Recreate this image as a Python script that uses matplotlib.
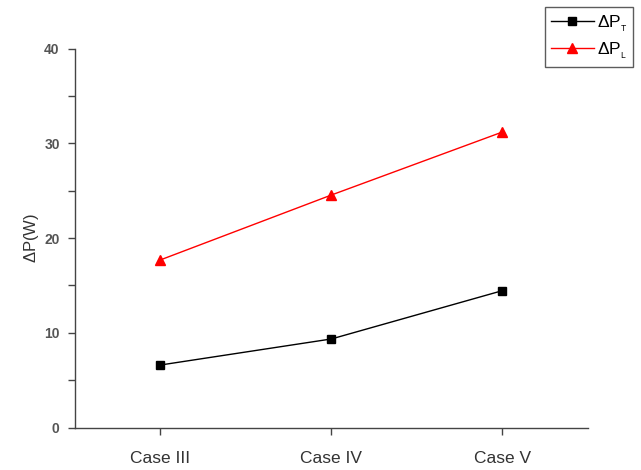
import matplotlib
matplotlib.use("Agg")
import matplotlib.pyplot as plt
from matplotlib.ticker import MultipleLocator

plt.rcParams['font.family'] = ['Liberation Sans', 'DejaVu Sans']
plt.rcParams['mathtext.fontset'] = 'custom'
plt.rcParams['mathtext.rm'] = 'Liberation Sans'

cases = ["Case III", "Case IV", "Case V"]
dp_total = [6.6, 9.35, 14.45]
dp_loss = [17.7, 24.55, 31.2]
y_ticks = [0, 10, 20, 30, 40]

fig = plt.figure(figsize=(6.41, 4.70), dpi=100)
ax = fig.add_axes([0.117, 0.0904, 0.8, 0.806])

x = list(range(len(cases)))
ax.plot(x, dp_total, color='black', lw=1.0, marker='s', ms=6,
        label=r'$\Delta$P$_\mathregular{_T}$')
ax.plot(x, dp_loss, color='red', lw=1.0, marker='^', ms=7.5,
        label=r'$\Delta$P$_\mathregular{_L}$')

ax.set_xlim(-0.5, 2.5)
ax.set_ylim(0, 40)
ax.set_xticks(x)
ax.set_xticklabels(cases, fontsize=12.5, color='#333333')
ax.set_yticks(y_ticks)
ax.set_yticklabels([str(v) for v in y_ticks], fontsize=10,
                   color='#555555', fontweight='bold')
ax.yaxis.set_minor_locator(MultipleLocator(5))

for side in ('top', 'right'):
    ax.spines[side].set_visible(False)
for side in ('left', 'bottom'):
    ax.spines[side].set_color('#444444')
    ax.spines[side].set_linewidth(1.0)

ax.tick_params(axis='both', which='major', direction='out', length=5,
               width=1.0, color='#444444')
ax.tick_params(axis='y', which='minor', direction='out', length=5,
               width=1.0, color='#444444')
ax.tick_params(axis='x', pad=12)
ax.tick_params(axis='y', pad=6)

ax.set_ylabel(r'$\Delta$P(W)', fontsize=12, color='#333333', labelpad=2)

leg = fig.legend(loc='upper right', bbox_to_anchor=(0.988, 0.986),
                 fontsize=12.5, frameon=True, fancybox=False,
                 handlelength=2.5, borderpad=0.35, labelspacing=0.4,
                 handletextpad=0.15, borderaxespad=0.0)
leg.get_frame().set_edgecolor('#333333')
leg.get_frame().set_linewidth(1.0)

fig.savefig('out.png', dpi=100)
